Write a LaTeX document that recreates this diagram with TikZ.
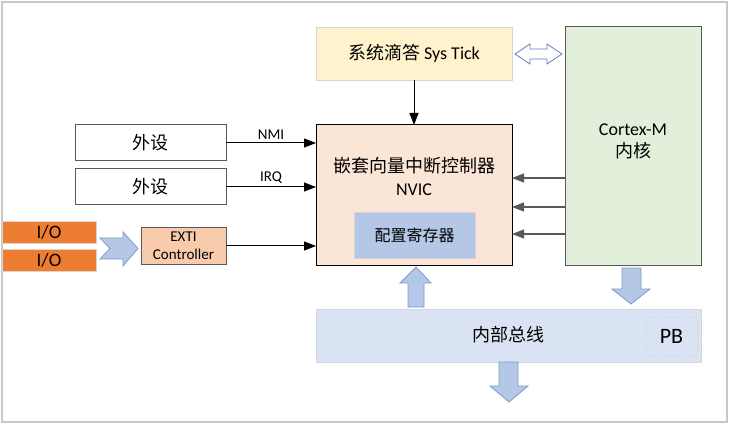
\documentclass[tikz,border=0pt]{standalone}
\usepackage{fontspec}
\setmainfont{Carlito}
\newfontfamily\cjk{Noto Sans CJK SC}
\usetikzlibrary{arrows.meta,calc}
\definecolor{frameg}{HTML}{C8C8C8}
\definecolor{tickfill}{HTML}{FFF2CC}
\definecolor{corefill}{HTML}{E2EFDA}
\definecolor{nvicfill}{HTML}{FBE5D6}
\definecolor{regfill}{HTML}{B4C7E7}
\definecolor{iofill}{HTML}{ED7D31}
\definecolor{extifill}{HTML}{F8CBAD}
\definecolor{busfill}{HTML}{DAE3F3}
\definecolor{barrow}{HTML}{B4C7E7}
\definecolor{barrowline}{HTML}{7F9BC9}
\definecolor{dblline}{HTML}{5B7FC0}
\definecolor{lightedge}{HTML}{D6D6D6}
\definecolor{darkedge}{HTML}{595959}
\tikzset{
  box/.style={rectangle, inner sep=0pt, outer sep=0pt},
  sig/.style={line width=1pt, -{Triangle[length=12pt,width=9pt]}},
  coresig/.style={line width=1.2pt, draw=darkedge, -{Triangle[length=12pt,width=9pt]}},
  blockarrow/.style={fill=barrow, draw=barrowline, line width=0.8pt, line join=miter},
  lbl/.style={font=\fontsize{15}{17}\selectfont, inner sep=0pt},
}
\begin{document}
\begin{tikzpicture}[x=1pt,y=-1pt]
\useasboundingbox (0,0) rectangle (729,425);
\fill[white] (0,0) rectangle (729,425);
\draw[frameg, line width=2pt] (2,2) rectangle (727,422);

% SysTick
\node[box, draw=lightedge, fill=tickfill, minimum width=196pt, minimum height=53pt,
      font=\fontsize{18}{22}\selectfont] (systick) at (414,53.5) {{\cjk 系统滴答} Sys Tick};
% Cortex
\node[box, draw=darkedge, line width=1pt, fill=corefill, minimum width=136pt, minimum height=238pt] (cortex) at (633,146) {};
\node[lbl, align=center, font=\fontsize{18}{22}\selectfont] (corelbl) at (633,141) {Cortex-M\\{\cjk 内核}};
% NVIC
\node[box, draw=black, line width=1pt, fill=nvicfill, minimum width=196pt, minimum height=140pt] (nvic) at (414,195) {};
\node[lbl, align=center, font=\fontsize{18}{23}\selectfont] (nviclbl) at (414,176) {{\cjk 嵌套向量中断控制器}\\NVIC};
\node[box, draw=lightedge, fill=regfill, minimum width=121pt, minimum height=46pt,
      font=\cjk\fontsize{16}{18}\selectfont] (reg) at (414.5,235) {配置寄存器};
% peripherals
\node[box, draw=darkedge, line width=1pt, fill=white, minimum width=151pt, minimum height=36pt,
      font=\cjk\fontsize{18}{20}\selectfont] (p1) at (150.5,143) {外设};
\node[box, draw=darkedge, line width=1pt, fill=white, minimum width=151pt, minimum height=36pt,
      font=\cjk\fontsize{18}{20}\selectfont] (p2) at (150.5,187) {外设};
% I/O
\node[box, draw=lightedge, fill=iofill, minimum width=94pt, minimum height=22pt,
      font=\fontsize{19}{20}\selectfont] (io1) at (49,232) {I/O};
\node[box, draw=lightedge, fill=iofill, minimum width=94pt, minimum height=22pt,
      font=\fontsize{19}{20}\selectfont] (io2) at (49,260) {I/O};
% EXTI
\node[box, draw=darkedge, line width=1pt, fill=extifill, minimum width=85pt, minimum height=36pt,
      align=center, font=\fontsize{15}{18}\selectfont] (exti) at (183.5,246) {EXTI\\Controller};
% Bus
\node[box, draw=lightedge, fill=busfill, minimum width=385pt, minimum height=53pt] (bus) at (508.5,335.5) {};
\node[lbl, font=\cjk\fontsize{18}{20}\selectfont] (buslbl) at (508,335) {内部总线};
\node[box, draw=lightedge, dashed, line width=0.8pt, minimum width=51pt, minimum height=39pt,
      font=\fontsize{22}{24}\selectfont] (pb) at (671.5,336.5) {PB};

% connectors
\draw[sig] (systick.south) -- (nvic.north);
\draw[sig] (p1.east) -- (p1.east -| nvic.west) node[lbl, midway, above=3pt] (nmi) {NMI};
\draw[sig] (p2.east) -- (p2.east -| nvic.west) node[lbl, midway, above=3pt] (irq) {IRQ};
\draw[sig] (exti.east) -- (exti.east -| nvic.west);
\coordinate (c1) at (565,178);
\coordinate (c2) at (565,207);
\coordinate (c3) at (565,234);
\draw[coresig] (c1) -- (c1 -| nvic.east);
\draw[coresig] (c2) -- (c2 -| nvic.east);
\draw[coresig] (c3) -- (c3 -| nvic.east);

% double arrow SysTick <-> Cortex
\draw[draw=dblline, fill=white, line width=0.8pt, line join=miter]
  (515,54) -- (530,44) -- (530,49) -- (547,49) -- (547,44) -- (562,54)
  -- (547,64) -- (547,59) -- (530,59) -- (530,64) -- cycle;
% notched arrow I/O -> EXTI
\draw[blockarrow] (100,238) -- (123,238) -- (123,232) -- (138,248.5) -- (123,266) -- (123,259)
  -- (100,259) -- (110,248.5) -- cycle;
% up arrow bus -> NVIC
\draw[blockarrow] (408,307) -- (408,283) -- (400,283) -- (416,267) -- (431,283) -- (424,283) -- (424,307) -- cycle;
% down arrow Cortex -> bus
\draw[blockarrow] (622,268) -- (641,268) -- (641,289) -- (650,289) -- (631,304) -- (612,289) -- (622,289) -- cycle;
% down arrow below bus
\draw[blockarrow] (499,362) -- (518,362) -- (518,386) -- (528,386) -- (509,402) -- (490,386) -- (499,386) -- cycle;
\end{tikzpicture}
\end{document}
